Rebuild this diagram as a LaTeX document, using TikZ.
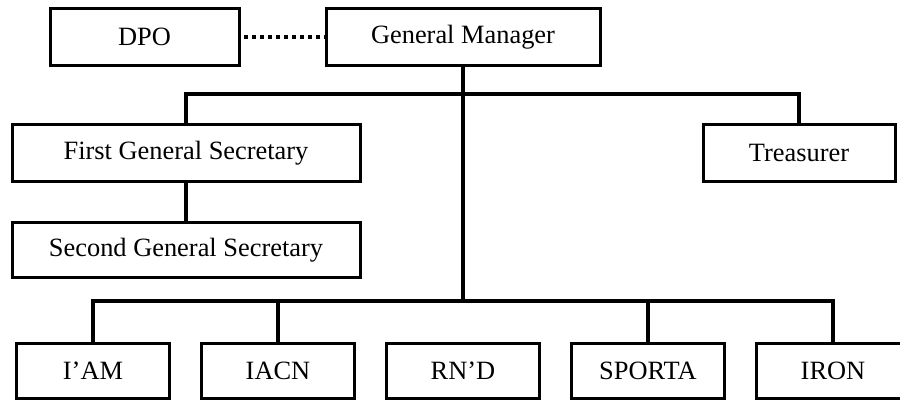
\documentclass[tikz,border=0pt]{standalone}
\usepackage{fontspec}
\setmainfont{Liberation Serif}
\usetikzlibrary{positioning}

\begin{document}
\begin{tikzpicture}[x=1pt,y=1pt,on grid,node distance=185pt,
	font=\fontsize{26.4}{30}\selectfont,
	post/.style={draw,line width=3pt,inner sep=0pt,minimum height=57pt},
	unit/.style={post,minimum width=153pt,minimum height=55pt},
	link/.style={line width=4pt}]
	\clip (0,0) rectangle (900,400);

	\node[post,minimum width=274pt] (gm) at (463,363) {General Manager};
	\node[post,minimum width=189pt] (dpo) [left=318.5pt of gm] {DPO};

	\node[post,minimum width=348pt] (fgs) at (186,247) {First General Secretary};
	\node[post,minimum width=348pt,minimum height=55pt] (sgs) [below=97pt of fgs] {Second General Secretary};
	\node[post,minimum width=192pt] (tr) at (799,247) {Treasurer};

	\node[unit] (rnd) at (463,29.5) {RN’D};
	\node[unit] (iacn) [left=of rnd] {IACN};
	\node[unit] (iam) [left=of iacn] {I’AM};
	\node[unit] (sporta) [right=of rnd] {SPORTA};
	\node[unit] (iron) [right=of sporta] {IRON};

	\coordinate (upbus) at (463,306);
	\coordinate (lowbus) at (463,99);

	\draw[line width=3.5pt,dash pattern=on 4pt off 4pt,shorten <=3pt] (dpo) -- (gm);
	\draw[link] (gm) -- (lowbus);
	\draw[link] (fgs.north) |- (upbus) -| (tr.north);
	\draw[link] (fgs) -- (sgs);
	\foreach \n in {iam,iacn,sporta,iron}
		\draw[link] (lowbus) -| (\n.north);
\end{tikzpicture}
\end{document}
